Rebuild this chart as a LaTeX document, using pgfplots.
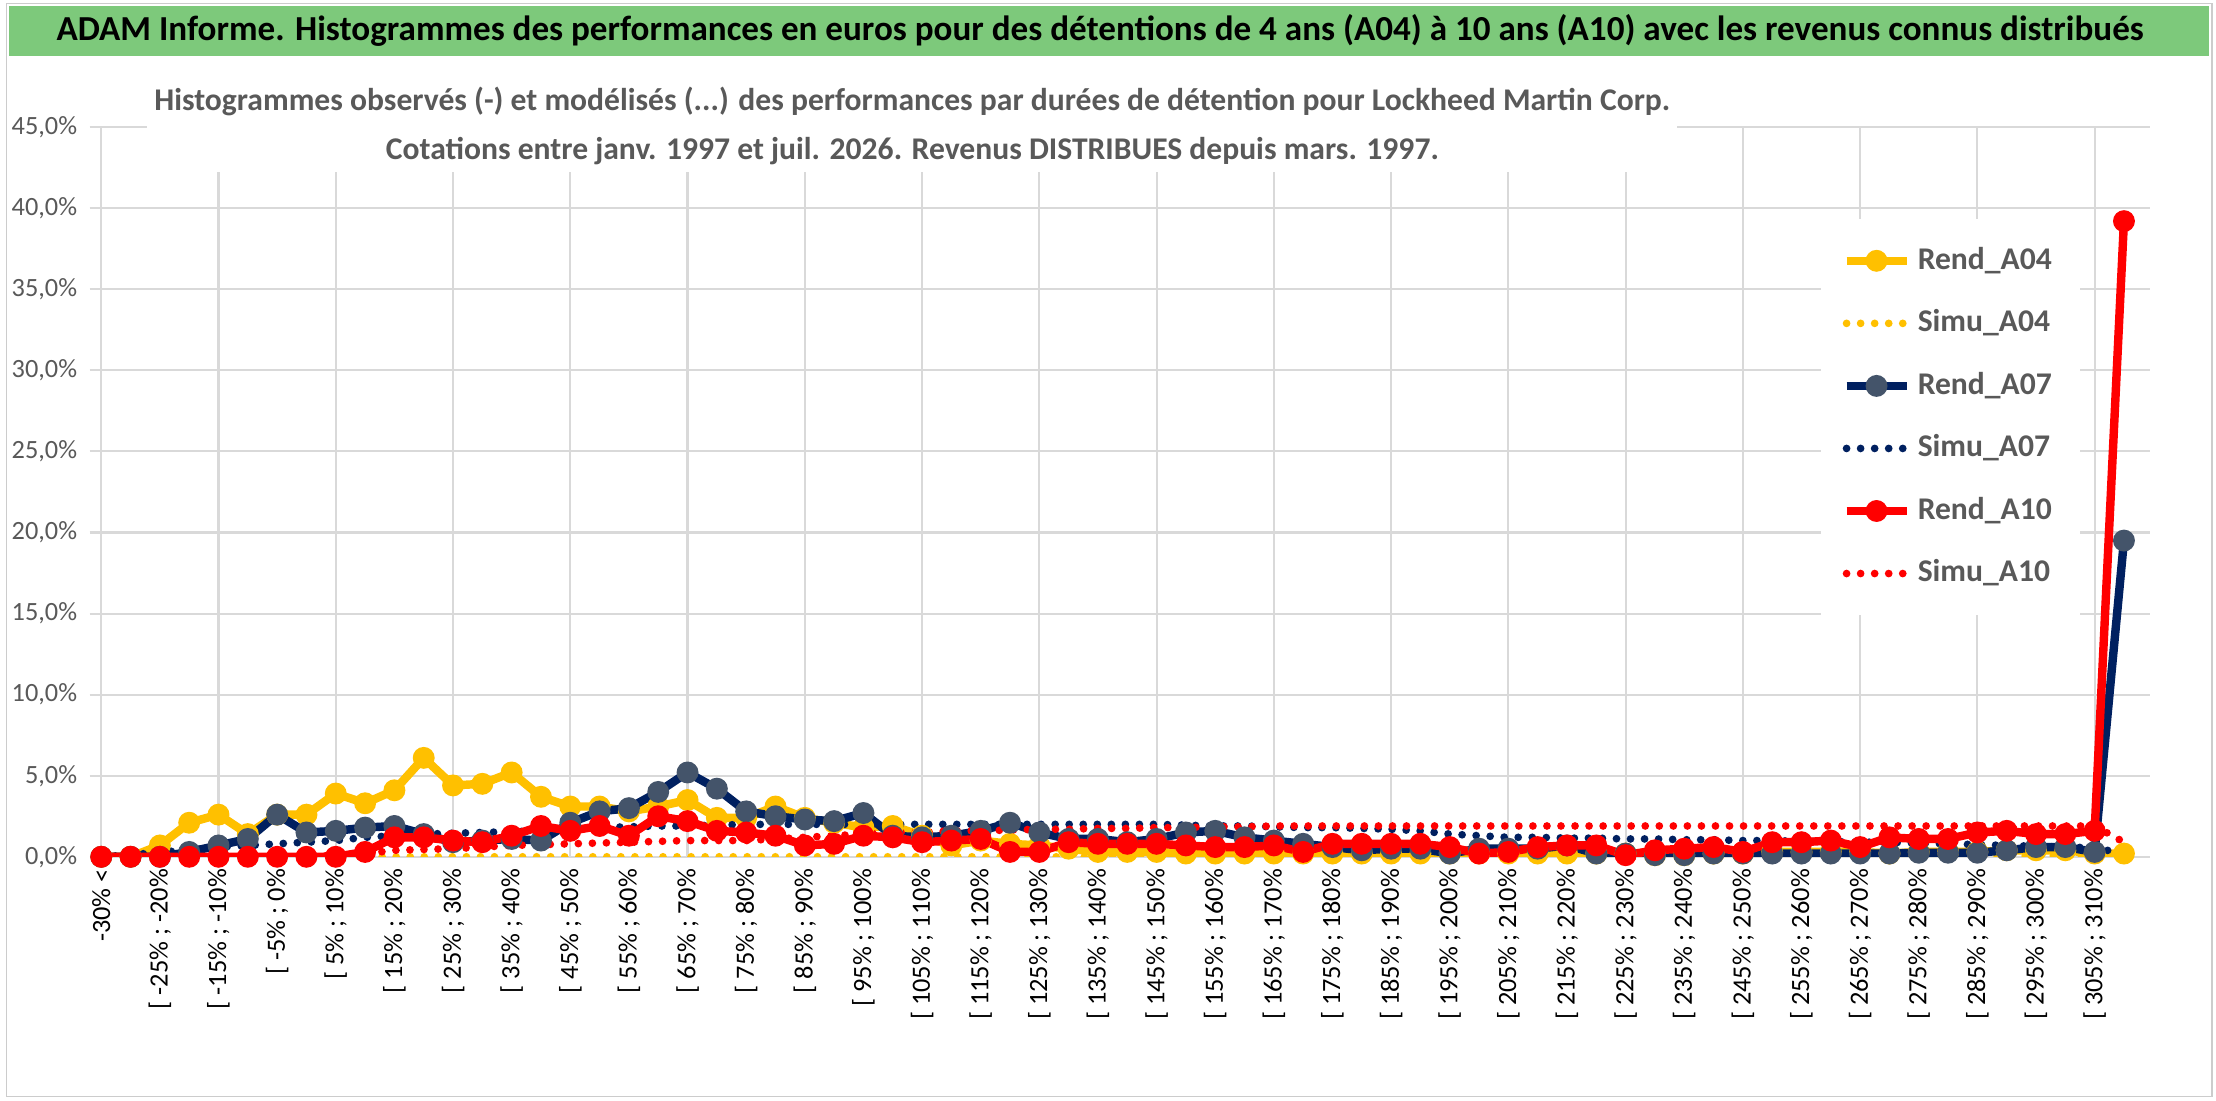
\documentclass[border=0pt]{standalone}
\usepackage{pgfplots}
\pgfplotsset{compat=1.18}
\usepackage{pgfplotstable}
\usepackage{fontspec}
\setmainfont{Carlito}
\definecolor{cy}{HTML}{FFC000}
\definecolor{cn}{HTML}{002060}
\definecolor{cnm}{HTML}{44546A}
\definecolor{cr}{HTML}{FF0000}
\definecolor{ban}{HTML}{7DC97B}
\definecolor{tg}{HTML}{595959}
\pgfplotstableread{
i a04 s04 a07 s07 a10 s10
0 0 0 0 0 0 0
1 0 0 0 0.1 0 0
2 0.7 0 0 0.3 0 0
3 2.1 0 0.3 0.4 0 0
4 2.6 0 0.7 0.6 0 0
5 1.4 0 1.1 0.7 0 0
6 2.6 0 2.6 0.8 0 0
7 2.6 0 1.5 0.9 0 0
8 3.9 0 1.6 1.0 0 0.1
9 3.3 0 1.8 1.2 0.3 0.2
10 4.1 0 1.9 1.3 1.2 0.4
11 6.1 0 1.4 1.4 1.2 0.45
12 4.4 0 0.9 1.45 1.0 0.5
13 4.5 0 1.0 1.5 0.9 0.6
14 5.2 0 1.1 1.55 1.3 0.7
15 3.7 0 1.0 1.6 1.9 0.75
16 3.1 0 2.1 1.7 1.6 0.8
17 3.1 0 2.8 1.8 1.9 0.85
18 2.8 0 3.0 1.85 1.3 0.9
19 3.1 0 4.0 1.9 2.5 0.95
20 3.5 0 5.2 1.9 2.2 1.0
21 2.4 0 4.2 1.95 1.6 1.0
22 2.4 0 2.8 2.0 1.5 1.0
23 3.1 0 2.5 2.0 1.3 1.1
24 2.4 0 2.3 2.0 0.7 1.2
25 2.1 0 2.2 2.0 0.8 1.3
26 1.8 0 2.7 2.0 1.3 1.4
27 1.9 0 1.3 2.0 1.2 1.5
28 1.3 0 1.2 2.0 0.9 1.5
29 0.7 0 1.3 2.0 1.0 1.6
30 1.0 0 1.6 2.0 1.1 1.6
31 0.8 0 2.1 2.0 0.3 1.65
32 0.7 0 1.5 2.0 0.3 1.7
33 0.5 0 1.1 2.0 0.9 1.7
34 0.3 0 1.1 2.0 0.8 1.75
35 0.3 0 0.9 2.0 0.8 1.75
36 0.3 0 1.1 2.0 0.8 1.8
37 0.2 0 1.5 1.95 0.7 1.8
38 0.2 0 1.6 1.9 0.6 1.85
39 0.2 0 1.2 1.9 0.6 1.85
40 0.2 0 1.0 1.85 0.7 1.9
41 0.2 0 0.8 1.8 0.3 1.9
42 0.2 0 0.6 1.8 0.8 1.9
43 0.2 0 0.4 1.75 0.8 1.9
44 0.2 0 0.5 1.7 0.8 1.9
45 0.2 0.05 0.5 1.6 0.8 1.9
46 0.2 0.05 0.2 1.4 0.6 1.9
47 0.2 0.05 0.5 1.3 0.2 1.9
48 0.2 0.05 0.5 1.2 0.3 1.9
49 0.2 0.05 0.5 1.2 0.6 1.9
50 0.2 0.05 0.7 1.15 0.7 1.9
51 0.2 0.05 0.2 1.15 0.7 1.9
52 0.2 0.05 0.2 1.1 0.1 1.9
53 0.1 0.05 0.1 1.1 0.4 1.9
54 0.1 0.05 0.1 1.05 0.5 1.9
55 0.2 0.05 0.2 1.05 0.6 1.9
56 0.2 0.05 0.2 1.0 0.3 1.9
57 0.3 0.05 0.2 1.0 0.9 1.9
58 0.3 0.05 0.2 0.95 0.9 1.9
59 0.3 0.05 0.2 0.95 1.0 1.9
60 0.3 0.05 0.2 0.9 0.6 1.9
61 0.2 0.05 0.2 0.9 1.2 1.9
62 0.3 0.05 0.25 0.85 1.1 1.9
63 0.3 0.05 0.25 0.8 1.1 1.9
64 0.3 0.05 0.25 0.75 1.5 1.9
65 0.4 0.05 0.4 0.7 1.6 1.9
66 0.4 0.05 0.6 0.65 1.4 1.9
67 0.4 0.05 0.6 0.6 1.4 1.9
68 0.2 0.05 0.3 0.55 1.6 1.9
69 0.2 0.2 19.5 0.2 39.2 0.9
}\data
\begin{document}
\begin{tikzpicture}
\fill[white] (-0.989,-2.443) rectangle (21.17,8.577);
\draw[gray!40] (-0.95,-2.40) rectangle (21.13,8.54);
\fill[ban] (-0.92,8.02) rectangle (21.10,8.52);
\node[font=\bfseries\fontsize{10}{12}\selectfont] at (10.0,8.27) {ADAM Informe. Histogrammes des performances en euros pour des détentions de 4 ans (A04) à 10 ans (A10) avec les revenus connus distribués};
\begin{axis}[
  at={(0,0)}, anchor=origin,
  scale only axis, width=20.63cm, height=7.305cm,
  xmin=-0.4, xmax=69.9, ymin=0, ymax=45,
  axis line style={draw=none},
  tick style={draw=none},
  ytick={0,5,...,45},
  ymajorgrids, grid style={gray!30, line width=0.6pt},
  yticklabel={\pgfmathprintnumber[fixed,fixed zerofill,precision=1,use comma]{\tick}\%},
  /pgf/number format/assume math mode=true,
  yticklabel style={font=\fontsize{7.5}{9}\selectfont, text=tg},
  xtick={0,2,...,68},
  xticklabels={{-30\% <},{[ -25\% ; -20\%},{[ -15\% ; -10\%},{[ -5\% ; 0\%},{[ 5\% ; 10\%},{[ 15\% ; 20\%},{[ 25\% ; 30\%},{[ 35\% ; 40\%},{[ 45\% ; 50\%},{[ 55\% ; 60\%},{[ 65\% ; 70\%},{[ 75\% ; 80\%},{[ 85\% ; 90\%},{[ 95\% ; 100\%},{[ 105\% ; 110\%},{[ 115\% ; 120\%},{[ 125\% ; 130\%},{[ 135\% ; 140\%},{[ 145\% ; 150\%},{[ 155\% ; 160\%},{[ 165\% ; 170\%},{[ 175\% ; 180\%},{[ 185\% ; 190\%},{[ 195\% ; 200\%},{[ 205\% ; 210\%},{[ 215\% ; 220\%},{[ 225\% ; 230\%},{[ 235\% ; 240\%},{[ 245\% ; 250\%},{[ 255\% ; 260\%},{[ 265\% ; 270\%},{[ 275\% ; 280\%},{[ 285\% ; 290\%},{[ 295\% ; 300\%},{[ 305\% ; 310\%}},
  xticklabel style={rotate=90, anchor=east, font=\fontsize{7.5}{9}\selectfont, text=black},
  extra x ticks={0,4,...,68},
  extra x tick labels={},
  extra x tick style={grid=major},
  legend style={at={(0.84,0.875)}, anchor=north west, draw=none, fill=white,
     font=\bfseries\fontsize{9}{11}\selectfont, text=tg, row sep=6pt,
     inner sep=6pt},
  legend cell align=left,
]
\addplot[cy, line width=2.4pt, mark=*, mark size=1.9pt, mark options={fill=cy}] table[x=i,y=a04]{\data};
\addlegendentry{Rend\_A04}
\addplot[cy, line width=2.2pt, line cap=round, dash pattern=on 0pt off 4pt] table[x=i,y=s04]{\data};
\addlegendentry{Simu\_A04}
\addplot[cn, line width=2.4pt, mark=*, mark size=1.9pt, mark options={fill=cnm,draw=cnm}] table[x=i,y=a07]{\data};
\addlegendentry{Rend\_A07}
\addplot[cn, line width=2.2pt, line cap=round, dash pattern=on 0pt off 4pt] table[x=i,y=s07]{\data};
\addlegendentry{Simu\_A07}
\addplot[cr, line width=2.4pt, mark=*, mark size=1.9pt, mark options={fill=cr}] table[x=i,y=a10]{\data};
\addlegendentry{Rend\_A10}
\addplot[cr, line width=2.2pt, line cap=round, dash pattern=on 0pt off 4pt] table[x=i,y=s10]{\data};
\addlegendentry{Simu\_A10}
\end{axis}
\node[fill=white, text=tg, font=\bfseries\fontsize{9}{11}\selectfont, align=center, inner sep=2pt] at (8.12,7.32) {Histogrammes observés (-) et modélisés (...) des performances par durées de détention pour Lockheed Martin Corp.\\[3pt] Cotations entre janv. 1997 et juil. 2026. Revenus DISTRIBUES depuis mars. 1997.};
\end{tikzpicture}
\end{document}
